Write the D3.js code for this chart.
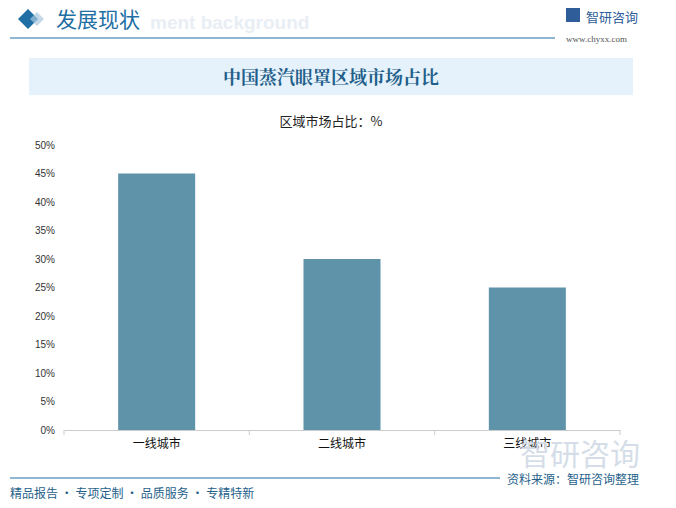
<!DOCTYPE html>
<html><head><meta charset="utf-8">
<script src="https://cdn.jsdelivr.net/npm/d3@7"></script>
<style>body{margin:0;background:#fff}svg{display:block;font-family:"Noto Sans CJK SC",sans-serif}</style>
</head><body>
<svg width="676" height="508"></svg>
<script>
var categories = ["一线城市", "二线城市", "三线城市"];
var shares = [45, 30, 25];
var yTicks = [0, 5, 10, 15, 20, 25, 30, 35, 40, 45, 50];

var svg = d3.select("svg");

// header
svg.append("path").attr("d", "M18,19 L28,9 L38,19 L28,29 Z").attr("fill", "#1f6fa5");
svg.append("path").attr("d", "M30,19 L37,12 L44,19 L37,26 Z").attr("fill", "#a9c8e0").attr("opacity", 0.7);
svg.append("text").attr("x", 150).attr("y", 29).attr("font-size", 19).attr("font-weight", "bold")
    .attr("fill", "#e8eef4").attr("font-family", "Liberation Sans").text("ment background");
svg.append("text").attr("x", 56).attr("y", 27).attr("font-size", 21).attr("fill", "#1f6fa5").text("发展现状");
svg.append("line").attr("x1", 10).attr("x2", 555).attr("y1", 38).attr("y2", 38).attr("stroke", "#1f6fa5");
svg.append("rect").attr("x", 566).attr("y", 8).attr("width", 14).attr("height", 14).attr("fill", "#2e5d9a");
svg.append("text").attr("x", 586).attr("y", 22).attr("font-size", 13).attr("fill", "#2e5d9a").text("智研咨询");
svg.append("text").attr("x", 566).attr("y", 42).attr("font-size", 9).attr("fill", "#555")
    .attr("font-family", "Liberation Serif").text("www.chyxx.com");

svg.append("rect").attr("x", 29).attr("y", 58).attr("width", 604).attr("height", 37).attr("fill", "#e6f2fb");
svg.append("text").attr("x", 331).attr("y", 84).attr("text-anchor", "middle").attr("font-size", 18)
    .attr("font-weight", "bold").attr("fill", "#1f5f8a").attr("font-family", "Noto Serif CJK SC, Noto Sans CJK SC")
    .text("中国蒸汽眼罩区域市场占比");
svg.append("text").attr("x", 331).attr("y", 126).attr("text-anchor", "middle").attr("font-size", 13)
    .attr("fill", "#222").text("区域市场占比：%");

var x = d3.scaleBand().domain(categories).range([64, 620]).paddingInner(0).paddingOuter(0);
var y = d3.scaleLinear().domain([0, 50]).range([430, 145]);

var g = svg.append("g");
g.append("g").attr("transform", "translate(0,430)")
    .call(d3.axisBottom(x).tickSize(0).tickPadding(9))
    .call(function(a) {
        a.select(".domain").attr("stroke", "#ccc");
        a.selectAll("text").attr("font-size", 12).attr("fill", "#111").attr("font-family", "Noto Sans CJK SC");
    });
g.selectAll(".sep").data([64, 249.3, 434.7, 620]).enter().append("line")
    .attr("x1", function(d) { return d; }).attr("x2", function(d) { return d; })
    .attr("y1", 430).attr("y2", 435).attr("stroke", "#ccc");

g.append("g").attr("transform", "translate(58,0)")
    .call(d3.axisLeft(y).tickValues(yTicks).tickSize(0).tickFormat(function(d) { return d + "%"; }))
    .call(function(a) {
        a.select(".domain").remove();
        a.selectAll("text").attr("font-size", 10).attr("fill", "#333").attr("font-family", "Liberation Sans");
    });

var bw = 77;
g.selectAll(".bar").data(shares).enter().append("rect")
    .attr("x", function(d, i) { return x(categories[i]) + x.bandwidth() / 2 - bw / 2; })
    .attr("y", function(d) { return y(d); })
    .attr("width", bw)
    .attr("height", function(d) { return 430 - y(d); })
    .attr("fill", "#5e93a9");

// footer
svg.append("text").attr("x", 520).attr("y", 465).attr("font-size", 30).attr("fill", "#d5dee8").text("智研咨询");
svg.append("line").attr("x1", 10).attr("x2", 500).attr("y1", 478).attr("y2", 478).attr("stroke", "#1f6fa5");
svg.append("text").attr("x", 507).attr("y", 484).attr("font-size", 12).attr("fill", "#1f5f8a").text("资料来源：智研咨询整理");
svg.append("text").attr("x", 10).attr("y", 498).attr("font-size", 12).attr("fill", "#1f5f8a")
    .text("精品报告 · 专项定制 · 品质服务 · 专精特新");
</script>
</body></html>
